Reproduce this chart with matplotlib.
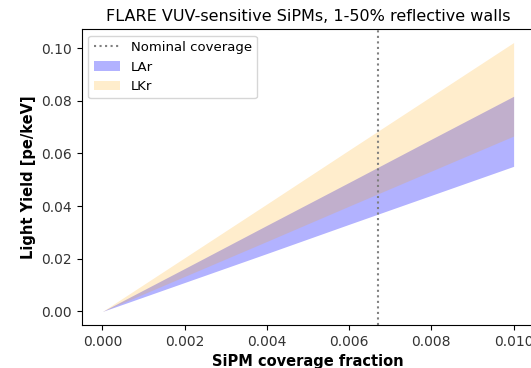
import matplotlib
matplotlib.use("Agg")
import matplotlib.pyplot as plt

coverage = [0.000, 0.002, 0.004, 0.006, 0.008, 0.010]
lar_low = [0.0, 0.0110, 0.0220, 0.0331, 0.0441, 0.0551]
lar_high = [0.0, 0.0163, 0.0327, 0.0490, 0.0654, 0.0817]
lkr_low = [0.0, 0.0133, 0.0266, 0.0400, 0.0533, 0.0666]
lkr_high = [0.0, 0.0204, 0.0408, 0.0613, 0.0817, 0.1021]
nominal = 0.0067

fig = plt.figure(figsize=(5.31, 3.68), dpi=100)
ax = fig.add_axes([0.154, 0.117, 0.852, 0.804])

ax.fill_between(coverage, lar_low, lar_high, color="blue", alpha=0.3, linewidth=0, label="LAr")
ax.fill_between(coverage, lkr_low, lkr_high, color="orange", alpha=0.2, linewidth=0, label="LKr")
ax.axvline(nominal, color="gray", linestyle=":", label="Nominal coverage")

handles, labels = ax.get_legend_handles_labels()
order = [2, 0, 1]
ax.legend([handles[i] for i in order], [labels[i] for i in order], loc="upper left", fontsize=9.5)

ax.set_title("FLARE VUV-sensitive SiPMs, 1-50% reflective walls", fontsize=11.5)
ax.set_xlabel("SiPM coverage fraction", fontweight="bold", fontsize=10.5)
ax.set_ylabel("Light Yield [pe/keV]", fontweight="bold", fontsize=10.5)
ax.set_xticks([0.000, 0.002, 0.004, 0.006, 0.008, 0.010])
ax.set_xticklabels(["0.000", "0.002", "0.004", "0.006", "0.008", "0.010"])
ax.set_yticks([0.00, 0.02, 0.04, 0.06, 0.08, 0.10])
ax.set_yticklabels(["0.00", "0.02", "0.04", "0.06", "0.08", "0.10"])
ax.tick_params(labelsize=10, labelcolor="#333333")

fig.savefig("out.png", dpi=100)
